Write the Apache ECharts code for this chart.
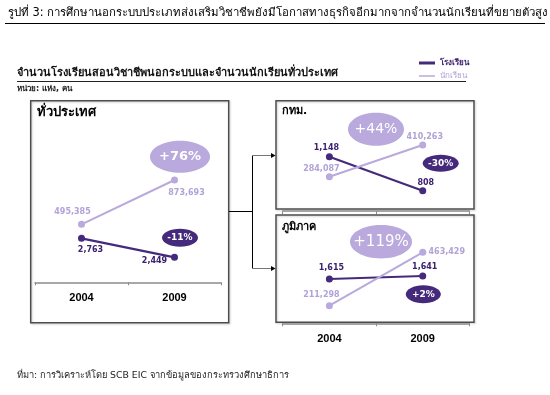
<!DOCTYPE html>
<html>
<head>
<meta charset="utf-8">
<script src="https://cdn.jsdelivr.net/npm/echarts@6/dist/echarts.min.js"></script>
<style>html,body{margin:0;padding:0;background:#fff}#c{width:550px;height:395px}</style>
</head>
<body>
<div id="c"></div>
<script>
// ---- data ----
const years = ['2004', '2009'];
const nationSchools = [2763, 2449];
const nationStudents = [495385, 873693];
const bkkSchools = [1148, 808];
const bkkStudents = [284087, 410263];
const regionSchools = [1615, 1641];
const regionStudents = [211298, 463429];
const panelTitles = ['ทั่วประเทศ', 'กทม.', 'ภูมิภาค'];
const studentGrowth = ['+76%', '+44%', '+119%'];
const schoolGrowth = ['-11%', '-30%', '+2%'];
const seriesNames = ['โรงเรียน', 'นักเรียน'];

// ---- styles ----
const DARK = '#452a7c';
const LIGHT = '#b9a9dc';
const DARK_TXT = '#3d2171';
const LIGHT_TXT = '#b1a2d8';
const FONT = "Tahoma, 'DejaVu Sans', 'Noto Sans', sans-serif";
const NUMFONT = "'DejaVu Sans', sans-serif";

const chart = echarts.init(document.getElementById('c'), null, {renderer: 'canvas'});

// grids (pixel layout)
const grids = [
  {left: 35, width: 186, top: 130, height: 154},
  {left: 282.7, width: 186.7, top: 105, height: 106},
  {left: 282.7, width: 186.7, top: 220, height: 103.3}
];
// axis range from target pixel positions of the two points
function yRange(vals, p1, p2, g) {
  const v1 = vals[0], v2 = vals[1];
  const k = (v1 - v2) / (p2 - p1);
  const top = g.top, bottom = g.top + g.height;
  return {min: v1 - k * (bottom - p1), max: v1 + k * (p1 - top)};
}
const ranges = [
  yRange(nationSchools, 238.3, 257.3, grids[0]),
  yRange(nationStudents, 224.3, 180, grids[0]),
  yRange(bkkSchools, 156.7, 190.7, grids[1]),
  yRange(bkkStudents, 176.7, 145, grids[1]),
  yRange(regionSchools, 279, 276, grids[2]),
  yRange(regionStudents, 305.7, 252.3, grids[2])
];

const xAxes = grids.map((g, i) => ({
  type: 'category', data: years, gridIndex: i, boundaryGap: true,
  axisLine: {lineStyle: {color: '#8c8c8c', width: 1.5}},
  axisTick: {show: true, length: 3, lineStyle: {color: '#8c8c8c', width: 1}},
  axisLabel: {show: i !== 1, color: '#000', fontWeight: 'bold', fontSize: 11,
    fontFamily: "'Liberation Sans', Arial, sans-serif", margin: i === 0 ? 8 : 10},
  splitLine: {show: false}
}));
const yAxes = ranges.map((r, i) => ({
  type: 'value', gridIndex: Math.floor(i / 2), min: r.min, max: r.max,
  show: false, splitLine: {show: false}
}));

function fmt(v) { return v.toLocaleString('en-US'); }
function mk(vals, offsets, color) {
  return vals.map((v, j) => ({
    value: v,
    label: {offset: offsets[j], color: color}
  }));
}
const labelBase = {show: true, position: 'inside', fontFamily: NUMFONT, fontWeight: 'bold', fontSize: 8,
  formatter: p => fmt(p.value)};

function lineSeries(name, data, gi, yi, color, width, offsets, txtColor) {
  return {
    name: name, type: 'line', xAxisIndex: gi, yAxisIndex: yi,
    data: mk(data, offsets, txtColor),
    symbol: 'circle', symbolSize: 7, z: 3,
    lineStyle: {color: color, width: width},
    itemStyle: {color: color},
    label: Object.assign({}, labelBase, {color: txtColor}),
    emphasis: {disabled: true}, animation: false
  };
}

const series = [
  lineSeries(seriesNames[0], nationSchools, 0, 0, DARK, 2.2, [[9, 12], [-20, 4]], DARK_TXT),
  lineSeries(seriesNames[1], nationStudents, 0, 1, LIGHT, 2, [[-9, -12], [12, 13]], LIGHT_TXT),
  lineSeries(seriesNames[0], bkkSchools, 1, 2, DARK, 2.2, [[-3, -9], [3, -8]], DARK_TXT),
  lineSeries(seriesNames[1], bkkStudents, 1, 3, LIGHT, 2, [[-8, -8], [2, -8]], LIGHT_TXT),
  lineSeries(seriesNames[0], regionSchools, 2, 4, DARK, 2.2, [[2, -11], [2, -9]], DARK_TXT),
  lineSeries(seriesNames[1], regionStudents, 2, 5, LIGHT, 2, [[-8, -11], [24, 0]], LIGHT_TXT)
];

function ellipse(cx, cy, rx, ry, fill, text, fs, fw) {
  return {
    type: 'group', z: 2, children: [
      {type: 'ellipse', shape: {cx: cx, cy: cy, rx: rx, ry: ry}, style: {fill: fill}},
      {type: 'text', x: cx, y: cy, style: {text: text, fill: '#fff', font: fw + ' ' + fs + 'px ' + NUMFONT,
        textAlign: 'center', textVerticalAlign: 'middle'}}
    ]
  };
}
const boxStyle = {fill: 'none', stroke: '#4d4d4d', lineWidth: 1.5,
  shadowColor: 'rgba(0,0,0,0.2)', shadowBlur: 2, shadowOffsetX: 1, shadowOffsetY: 1};

const graphic = [
  {type: 'text', x: 8, y: 13, style: {text: 'รูปที่ 3: การศึกษานอกระบบประเภทส่งเสริมวิชาชีพยังมีโอกาสทางธุรกิจอีกมากจากจำนวนนักเรียนที่ขยายตัวสูง',
    font: '11.4px ' + FONT, fill: '#000', textVerticalAlign: 'middle'}},
  {type: 'line', shape: {x1: 5, y1: 23.5, x2: 545, y2: 23.5}, style: {stroke: '#000', lineWidth: 1.2}},
  {type: 'text', x: 17, y: 73, style: {text: 'จำนวนโรงเรียนสอนวิชาชีพนอกระบบและจำนวนนักเรียนทั่วประเทศ',
    font: 'bold 11px ' + FONT, fill: '#111', textVerticalAlign: 'middle'}},
  {type: 'line', shape: {x1: 17, y1: 81.5, x2: 466, y2: 81.5}, style: {stroke: '#222', lineWidth: 1}},
  {type: 'text', x: 17, y: 89, style: {text: 'หน่วย: แห่ง, คน', font: 'bold 8px ' + FONT, fill: '#222', textVerticalAlign: 'middle'}},
  // panel boxes
  {type: 'rect', z: 0, shape: {x: 30.7, y: 100.7, width: 198, height: 222}, style: boxStyle},
  {type: 'rect', z: 0, shape: {x: 276, y: 100.7, width: 198, height: 108.3}, style: boxStyle},
  {type: 'rect', z: 0, shape: {x: 276, y: 215, width: 198, height: 107.3}, style: boxStyle},
  // panel titles
  {type: 'text', x: 37, y: 113, style: {text: panelTitles[0], font: 'bold 13px ' + FONT, fill: '#000', textVerticalAlign: 'middle'}},
  {type: 'text', x: 282, y: 111, style: {text: panelTitles[1], font: 'bold 11px ' + FONT, fill: '#000', textVerticalAlign: 'middle'}},
  {type: 'text', x: 282, y: 227, style: {text: panelTitles[2], font: 'bold 11px ' + FONT, fill: '#000', textVerticalAlign: 'middle'}},
  // connector arrows
  {type: 'polyline', shape: {points: [[229, 211.5], [252.5, 211.5]]}, style: {stroke: '#000', lineWidth: 1}},
  {type: 'polyline', shape: {points: [[252.5, 155.5], [252.5, 268.5]]}, style: {stroke: '#000', lineWidth: 1}},
  {type: 'polyline', shape: {points: [[252.5, 155.5], [272, 155.5]]}, style: {stroke: '#777', lineWidth: 1}},
  {type: 'polyline', shape: {points: [[252.5, 268.5], [272, 268.5]]}, style: {stroke: '#777', lineWidth: 1}},
  {type: 'polygon', shape: {points: [[271, 153], [275.5, 155.5], [271, 158]]}, style: {fill: '#000'}},
  {type: 'polygon', shape: {points: [[271, 266], [275.5, 268.5], [271, 271]]}, style: {fill: '#000'}},
  // growth ellipses
  ellipse(180, 156.7, 30, 16, LIGHT, studentGrowth[0], 13, 'bold'),
  ellipse(180, 237.7, 18, 9, DARK, schoolGrowth[0], 9, 'bold'),
  ellipse(376, 129.3, 28, 16.5, LIGHT, studentGrowth[1], 14, 'normal'),
  ellipse(440.7, 163.3, 18, 8.5, DARK, schoolGrowth[1], 9, 'bold'),
  ellipse(381, 241.7, 31, 16.7, LIGHT, studentGrowth[2], 15, 'normal'),
  ellipse(423.3, 294.3, 17.5, 9, DARK, schoolGrowth[2], 9, 'bold'),
  // footer
  {type: 'text', x: 17, y: 376, style: {text: 'ที่มา: การวิเคราะห์โดย SCB EIC จากข้อมูลของกระทรวงศึกษาธิการ',
    font: '9.3px ' + FONT, fill: '#222', textVerticalAlign: 'middle'}}
];

chart.setOption({
  animation: false,
  backgroundColor: '#fff',
  grid: grids.map(g => Object.assign({containLabel: false}, g)),
  xAxis: xAxes,
  yAxis: yAxes,
  legend: [
    {data: [seriesNames[0]], left: 414, top: 54, orient: 'vertical', icon: 'rect', itemWidth: 16, itemHeight: 3, itemGap: 2,
      selectedMode: false, textStyle: {fontSize: 8, fontWeight: 'bold', color: DARK_TXT, fontFamily: FONT}},
    {data: [seriesNames[1]], left: 414, top: 67, orient: 'vertical', icon: 'rect', itemWidth: 16, itemHeight: 1.5, itemGap: 2,
      selectedMode: false, textStyle: {fontSize: 8, color: LIGHT_TXT, fontFamily: FONT}}
  ],
  series: series,
  graphic: graphic
});
</script>
</body>
</html>
